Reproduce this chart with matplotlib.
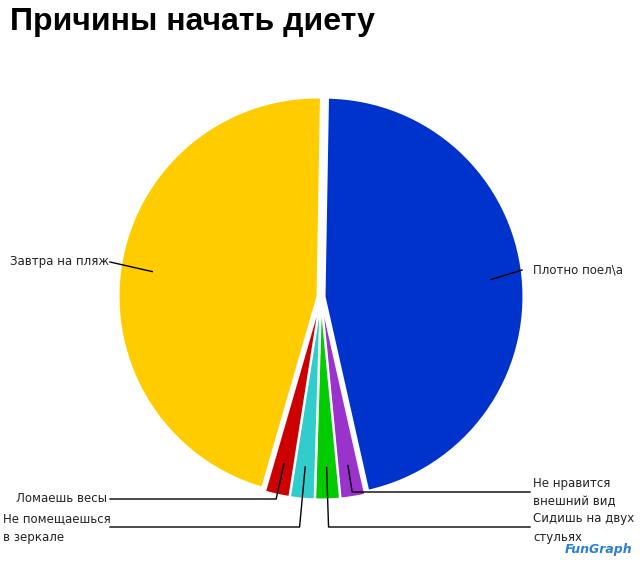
import numpy as np
import matplotlib
matplotlib.use("Agg")
import matplotlib.pyplot as plt

# данные
labels = ["Плотно поел\\а", "Не нравится\nвнешний вид", "Сидишь на двух\nстульях",
          "Не помещаешься\nв зеркале", "Ломаешь весы", "Завтра на пляж"]
values = [46.2, 2, 2, 2, 2, 45.8]
colors = ["#0033CC", "#9933CC", "#00CC00", "#33CCCC", "#CC0000", "#FFCC00"]

# где стоят подписи (в пикселях картинки): конец линии, y, x текста, выравнивание
label_pos = [(522, 270, 533, "left"), (530, 492, 533, "left"), (530, 527, 533, "left"),
             (110, 527, 3, "left"), (110, 499, 107, "right"), (110, 262, 109, "right")]

fig = plt.figure(figsize=(6.4, 5.65), dpi=100)
ax = fig.add_axes([0, 0, 1, 1])

cx, cy, R = 321, 297, 199
# explode в matplotlib задаётся в единицах данных (тут пиксели)
wedges, _ = ax.pie(values, colors=colors, center=(cx, cy), radius=R,
                   startangle=271, counterclock=True,
                   explode=[3.5] * len(values),
                   wedgeprops=dict(edgecolor="white", linewidth=1.5))
ax.set_xlim(0, 640)
ax.set_ylim(565, 0)
ax.set_aspect("equal")
ax.axis("off")

for w, lab, (x_end, ly, tx, ha) in zip(wedges, labels, label_pos):
    mid = np.deg2rad((w.theta1 + w.theta2) / 2)
    dx, dy = np.cos(mid), np.sin(mid)
    ox, oy = w.center
    ax0, ay0 = ox + 0.84 * R * dx, oy + 0.84 * R * dy
    if abs(dy) > 0.9:
        # маленькие дольки снизу: вниз, потом вбок
        t = (ly - ay0) / dy
        ex = ax0 + t * dx
        ax.plot([ax0, ex, x_end], [ay0, ly, ly], color="black", lw=1)
    else:
        ax.plot([ax0, x_end], [ay0, ly], color="black", lw=1)
    if "\n" in lab:
        ax.text(tx, ly - 15, lab, ha=ha, va="top", fontsize=8.5,
                color="#222222", linespacing=1.55)
    else:
        ax.text(tx, ly, lab, ha=ha, va="center", fontsize=8.5, color="#222222")

fig.text(10 / 640, 1 - 22 / 565, "Причины начать диету", fontsize=23,
         fontweight="bold", family="Liberation Sans", va="center", ha="left")
fig.text(632 / 640, 1 - 549 / 565, "FunGraph", fontsize=9, fontweight="bold",
         style="italic", color="#2a7fd4", ha="right", va="center")

fig.savefig("out.png", dpi=100)
